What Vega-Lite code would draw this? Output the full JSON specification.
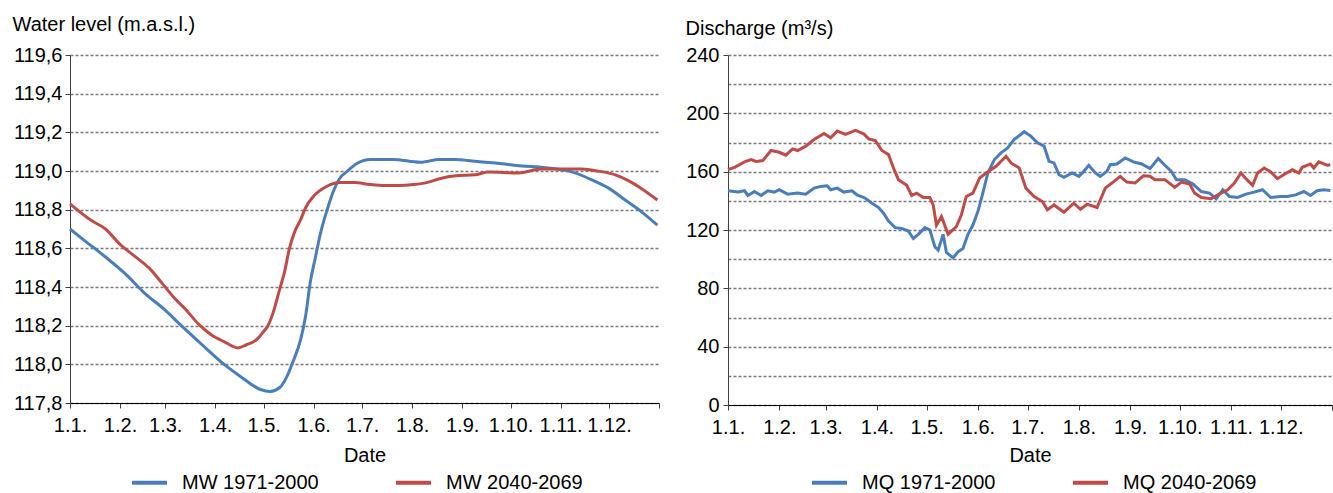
{
  "$schema": "https://vega.github.io/schema/vega-lite/v6.json",
  "background": "white",
  "padding": {"left": 12, "top": 14, "right": 0, "bottom": 0},
  "bounds": "flush",
  "spacing": 69,
  "config": {
    "font": "Liberation Sans",
    "view": {"stroke": null},
    "axis": {
      "labelFont": "Liberation Sans", "labelFontSize": 20, "labelColor": "#000",
      "titleFont": "Liberation Sans", "titleFontSize": 20, "titleFontWeight": "normal", "titleColor": "#000",
      "domainColor": "#404040", "tickColor": "#404040", "tickSize": 5,
      "gridColor": "#7a7a7a", "gridDash": [3, 2], "gridWidth": 1.6
    },
    "legend": {
      "labelFont": "Liberation Sans", "labelFontSize": 20, "labelColor": "#000",
      "symbolType": "stroke", "symbolSize": 1225, "symbolStrokeWidth": 4,
      "labelOffset": 13, "columnPadding": 69, "padding": 0
    }
  },
  "resolve": {"scale": {"color": "independent", "x": "independent", "y": "independent"}, "legend": {"color": "independent"}},
  "datasets": {
    "level": [
      {"d": "2001-01-01", "s": "MW 1971-2000", "v": 118.70},
      {"d": "2001-01-10", "s": "MW 1971-2000", "v": 118.64},
      {"d": "2001-01-23", "s": "MW 1971-2000", "v": 118.555},
      {"d": "2001-02-04", "s": "MW 1971-2000", "v": 118.47},
      {"d": "2001-02-16", "s": "MW 1971-2000", "v": 118.37},
      {"d": "2001-03-01", "s": "MW 1971-2000", "v": 118.28},
      {"d": "2001-03-11", "s": "MW 1971-2000", "v": 118.20},
      {"d": "2001-03-24", "s": "MW 1971-2000", "v": 118.10},
      {"d": "2001-04-05", "s": "MW 1971-2000", "v": 118.01},
      {"d": "2001-04-17", "s": "MW 1971-2000", "v": 117.935},
      {"d": "2001-04-29", "s": "MW 1971-2000", "v": 117.87},
      {"d": "2001-05-05", "s": "MW 1971-2000", "v": 117.86},
      {"d": "2001-05-11", "s": "MW 1971-2000", "v": 117.88},
      {"d": "2001-05-15", "s": "MW 1971-2000", "v": 117.93},
      {"d": "2001-05-19", "s": "MW 1971-2000", "v": 118.01},
      {"d": "2001-05-24", "s": "MW 1971-2000", "v": 118.13},
      {"d": "2001-05-27", "s": "MW 1971-2000", "v": 118.25},
      {"d": "2001-05-30", "s": "MW 1971-2000", "v": 118.43},
      {"d": "2001-06-02", "s": "MW 1971-2000", "v": 118.55},
      {"d": "2001-06-05", "s": "MW 1971-2000", "v": 118.67},
      {"d": "2001-06-09", "s": "MW 1971-2000", "v": 118.79},
      {"d": "2001-06-13", "s": "MW 1971-2000", "v": 118.89},
      {"d": "2001-06-17", "s": "MW 1971-2000", "v": 118.96},
      {"d": "2001-06-22", "s": "MW 1971-2000", "v": 119.00},
      {"d": "2001-06-28", "s": "MW 1971-2000", "v": 119.04},
      {"d": "2001-07-06", "s": "MW 1971-2000", "v": 119.06},
      {"d": "2001-07-20", "s": "MW 1971-2000", "v": 119.06},
      {"d": "2001-08-06", "s": "MW 1971-2000", "v": 119.045},
      {"d": "2001-08-18", "s": "MW 1971-2000", "v": 119.06},
      {"d": "2001-08-28", "s": "MW 1971-2000", "v": 119.06},
      {"d": "2001-09-09", "s": "MW 1971-2000", "v": 119.05},
      {"d": "2001-09-23", "s": "MW 1971-2000", "v": 119.04},
      {"d": "2001-10-08", "s": "MW 1971-2000", "v": 119.026},
      {"d": "2001-10-20", "s": "MW 1971-2000", "v": 119.02},
      {"d": "2001-11-02", "s": "MW 1971-2000", "v": 119.006},
      {"d": "2001-11-10", "s": "MW 1971-2000", "v": 118.99},
      {"d": "2001-11-20", "s": "MW 1971-2000", "v": 118.955},
      {"d": "2001-12-01", "s": "MW 1971-2000", "v": 118.91},
      {"d": "2001-12-11", "s": "MW 1971-2000", "v": 118.85},
      {"d": "2001-12-21", "s": "MW 1971-2000", "v": 118.79},
      {"d": "2001-12-31", "s": "MW 1971-2000", "v": 118.72},
      {"d": "2001-01-01", "s": "MW 2040-2069", "v": 118.83},
      {"d": "2001-01-14", "s": "MW 2040-2069", "v": 118.745},
      {"d": "2001-01-23", "s": "MW 2040-2069", "v": 118.70},
      {"d": "2001-02-01", "s": "MW 2040-2069", "v": 118.62},
      {"d": "2001-02-10", "s": "MW 2040-2069", "v": 118.56},
      {"d": "2001-02-20", "s": "MW 2040-2069", "v": 118.49},
      {"d": "2001-02-27", "s": "MW 2040-2069", "v": 118.42},
      {"d": "2001-03-07", "s": "MW 2040-2069", "v": 118.34},
      {"d": "2001-03-13", "s": "MW 2040-2069", "v": 118.29},
      {"d": "2001-03-22", "s": "MW 2040-2069", "v": 118.205},
      {"d": "2001-03-30", "s": "MW 2040-2069", "v": 118.15},
      {"d": "2001-04-07", "s": "MW 2040-2069", "v": 118.115},
      {"d": "2001-04-15", "s": "MW 2040-2069", "v": 118.085},
      {"d": "2001-04-20", "s": "MW 2040-2069", "v": 118.10},
      {"d": "2001-04-27", "s": "MW 2040-2069", "v": 118.13},
      {"d": "2001-05-01", "s": "MW 2040-2069", "v": 118.17},
      {"d": "2001-05-03", "s": "MW 2040-2069", "v": 118.19},
      {"d": "2001-05-07", "s": "MW 2040-2069", "v": 118.27},
      {"d": "2001-05-11", "s": "MW 2040-2069", "v": 118.39},
      {"d": "2001-05-14", "s": "MW 2040-2069", "v": 118.48},
      {"d": "2001-05-17", "s": "MW 2040-2069", "v": 118.60},
      {"d": "2001-05-20", "s": "MW 2040-2069", "v": 118.68},
      {"d": "2001-05-24", "s": "MW 2040-2069", "v": 118.75},
      {"d": "2001-05-27", "s": "MW 2040-2069", "v": 118.81},
      {"d": "2001-06-01", "s": "MW 2040-2069", "v": 118.87},
      {"d": "2001-06-09", "s": "MW 2040-2069", "v": 118.92},
      {"d": "2001-06-17", "s": "MW 2040-2069", "v": 118.94},
      {"d": "2001-06-26", "s": "MW 2040-2069", "v": 118.94},
      {"d": "2001-07-06", "s": "MW 2040-2069", "v": 118.93},
      {"d": "2001-07-14", "s": "MW 2040-2069", "v": 118.925},
      {"d": "2001-07-24", "s": "MW 2040-2069", "v": 118.925},
      {"d": "2001-08-02", "s": "MW 2040-2069", "v": 118.93},
      {"d": "2001-08-10", "s": "MW 2040-2069", "v": 118.94},
      {"d": "2001-08-18", "s": "MW 2040-2069", "v": 118.96},
      {"d": "2001-08-28", "s": "MW 2040-2069", "v": 118.975},
      {"d": "2001-09-09", "s": "MW 2040-2069", "v": 118.98},
      {"d": "2001-09-17", "s": "MW 2040-2069", "v": 118.995},
      {"d": "2001-10-06", "s": "MW 2040-2069", "v": 118.99},
      {"d": "2001-10-20", "s": "MW 2040-2069", "v": 119.01},
      {"d": "2001-11-14", "s": "MW 2040-2069", "v": 119.01},
      {"d": "2001-11-24", "s": "MW 2040-2069", "v": 119.00},
      {"d": "2001-12-05", "s": "MW 2040-2069", "v": 118.98},
      {"d": "2001-12-13", "s": "MW 2040-2069", "v": 118.95},
      {"d": "2001-12-21", "s": "MW 2040-2069", "v": 118.91},
      {"d": "2001-12-31", "s": "MW 2040-2069", "v": 118.85}
    ],
    "discharge": [
      {"d": "2001-01-01", "s": "MQ 1971-2000", "v": 146.9},
      {"d": "2001-01-07", "s": "MQ 1971-2000", "v": 146.0},
      {"d": "2001-01-11", "s": "MQ 1971-2000", "v": 146.9},
      {"d": "2001-01-13", "s": "MQ 1971-2000", "v": 143.7},
      {"d": "2001-01-17", "s": "MQ 1971-2000", "v": 146.4},
      {"d": "2001-01-21", "s": "MQ 1971-2000", "v": 143.7},
      {"d": "2001-01-25", "s": "MQ 1971-2000", "v": 146.9},
      {"d": "2001-01-29", "s": "MQ 1971-2000", "v": 146.0},
      {"d": "2001-02-01", "s": "MQ 1971-2000", "v": 147.6},
      {"d": "2001-02-06", "s": "MQ 1971-2000", "v": 144.6},
      {"d": "2001-02-12", "s": "MQ 1971-2000", "v": 145.3},
      {"d": "2001-02-17", "s": "MQ 1971-2000", "v": 144.6},
      {"d": "2001-02-22", "s": "MQ 1971-2000", "v": 148.7},
      {"d": "2001-02-26", "s": "MQ 1971-2000", "v": 149.9},
      {"d": "2001-03-02", "s": "MQ 1971-2000", "v": 150.3},
      {"d": "2001-03-04", "s": "MQ 1971-2000", "v": 147.6},
      {"d": "2001-03-08", "s": "MQ 1971-2000", "v": 148.7},
      {"d": "2001-03-12", "s": "MQ 1971-2000", "v": 146.0},
      {"d": "2001-03-17", "s": "MQ 1971-2000", "v": 146.9},
      {"d": "2001-03-20", "s": "MQ 1971-2000", "v": 144.1},
      {"d": "2001-03-25", "s": "MQ 1971-2000", "v": 141.8},
      {"d": "2001-03-29", "s": "MQ 1971-2000", "v": 138.4},
      {"d": "2001-04-02", "s": "MQ 1971-2000", "v": 135.4},
      {"d": "2001-04-05", "s": "MQ 1971-2000", "v": 131.5},
      {"d": "2001-04-08", "s": "MQ 1971-2000", "v": 126.2},
      {"d": "2001-04-12", "s": "MQ 1971-2000", "v": 121.6},
      {"d": "2001-04-16", "s": "MQ 1971-2000", "v": 121.1},
      {"d": "2001-04-20", "s": "MQ 1971-2000", "v": 119.3},
      {"d": "2001-04-23", "s": "MQ 1971-2000", "v": 114.2},
      {"d": "2001-04-26", "s": "MQ 1971-2000", "v": 117.0},
      {"d": "2001-04-30", "s": "MQ 1971-2000", "v": 121.6},
      {"d": "2001-05-03", "s": "MQ 1971-2000", "v": 120.0},
      {"d": "2001-05-06", "s": "MQ 1971-2000", "v": 108.5},
      {"d": "2001-05-08", "s": "MQ 1971-2000", "v": 106.2},
      {"d": "2001-05-11", "s": "MQ 1971-2000", "v": 117.0},
      {"d": "2001-05-13", "s": "MQ 1971-2000", "v": 104.6},
      {"d": "2001-05-17", "s": "MQ 1971-2000", "v": 100.9},
      {"d": "2001-05-20", "s": "MQ 1971-2000", "v": 105.0},
      {"d": "2001-05-23", "s": "MQ 1971-2000", "v": 107.3},
      {"d": "2001-05-26", "s": "MQ 1971-2000", "v": 117.0},
      {"d": "2001-05-29", "s": "MQ 1971-2000", "v": 123.4},
      {"d": "2001-06-01", "s": "MQ 1971-2000", "v": 132.6},
      {"d": "2001-06-04", "s": "MQ 1971-2000", "v": 145.3},
      {"d": "2001-06-07", "s": "MQ 1971-2000", "v": 159.1},
      {"d": "2001-06-11", "s": "MQ 1971-2000", "v": 168.3},
      {"d": "2001-06-15", "s": "MQ 1971-2000", "v": 172.9},
      {"d": "2001-06-19", "s": "MQ 1971-2000", "v": 176.3},
      {"d": "2001-06-23", "s": "MQ 1971-2000", "v": 182.1},
      {"d": "2001-06-29", "s": "MQ 1971-2000", "v": 187.4},
      {"d": "2001-07-03", "s": "MQ 1971-2000", "v": 184.4},
      {"d": "2001-07-07", "s": "MQ 1971-2000", "v": 179.8},
      {"d": "2001-07-11", "s": "MQ 1971-2000", "v": 177.5},
      {"d": "2001-07-14", "s": "MQ 1971-2000", "v": 167.1},
      {"d": "2001-07-17", "s": "MQ 1971-2000", "v": 166.0},
      {"d": "2001-07-20", "s": "MQ 1971-2000", "v": 157.9},
      {"d": "2001-07-23", "s": "MQ 1971-2000", "v": 156.1},
      {"d": "2001-07-28", "s": "MQ 1971-2000", "v": 159.1},
      {"d": "2001-08-01", "s": "MQ 1971-2000", "v": 156.8},
      {"d": "2001-08-04", "s": "MQ 1971-2000", "v": 160.2},
      {"d": "2001-08-07", "s": "MQ 1971-2000", "v": 164.4},
      {"d": "2001-08-11", "s": "MQ 1971-2000", "v": 159.1},
      {"d": "2001-08-14", "s": "MQ 1971-2000", "v": 156.8},
      {"d": "2001-08-18", "s": "MQ 1971-2000", "v": 160.2},
      {"d": "2001-08-20", "s": "MQ 1971-2000", "v": 164.8},
      {"d": "2001-08-24", "s": "MQ 1971-2000", "v": 165.3},
      {"d": "2001-08-29", "s": "MQ 1971-2000", "v": 169.4},
      {"d": "2001-09-03", "s": "MQ 1971-2000", "v": 166.7},
      {"d": "2001-09-08", "s": "MQ 1971-2000", "v": 165.3},
      {"d": "2001-09-13", "s": "MQ 1971-2000", "v": 162.1},
      {"d": "2001-09-18", "s": "MQ 1971-2000", "v": 169.0},
      {"d": "2001-09-22", "s": "MQ 1971-2000", "v": 164.4},
      {"d": "2001-09-26", "s": "MQ 1971-2000", "v": 160.2},
      {"d": "2001-09-29", "s": "MQ 1971-2000", "v": 154.5},
      {"d": "2001-10-04", "s": "MQ 1971-2000", "v": 154.5},
      {"d": "2001-10-09", "s": "MQ 1971-2000", "v": 151.5},
      {"d": "2001-10-14", "s": "MQ 1971-2000", "v": 146.4},
      {"d": "2001-10-19", "s": "MQ 1971-2000", "v": 145.3},
      {"d": "2001-10-23", "s": "MQ 1971-2000", "v": 141.4},
      {"d": "2001-10-27", "s": "MQ 1971-2000", "v": 147.6},
      {"d": "2001-10-31", "s": "MQ 1971-2000", "v": 143.0},
      {"d": "2001-11-05", "s": "MQ 1971-2000", "v": 142.3},
      {"d": "2001-11-10", "s": "MQ 1971-2000", "v": 144.6},
      {"d": "2001-11-15", "s": "MQ 1971-2000", "v": 146.0},
      {"d": "2001-11-20", "s": "MQ 1971-2000", "v": 147.6},
      {"d": "2001-11-25", "s": "MQ 1971-2000", "v": 142.3},
      {"d": "2001-12-01", "s": "MQ 1971-2000", "v": 143.0},
      {"d": "2001-12-05", "s": "MQ 1971-2000", "v": 143.0},
      {"d": "2001-12-10", "s": "MQ 1971-2000", "v": 144.1},
      {"d": "2001-12-15", "s": "MQ 1971-2000", "v": 146.4},
      {"d": "2001-12-19", "s": "MQ 1971-2000", "v": 143.7},
      {"d": "2001-12-23", "s": "MQ 1971-2000", "v": 146.9},
      {"d": "2001-12-27", "s": "MQ 1971-2000", "v": 147.6},
      {"d": "2001-12-31", "s": "MQ 1971-2000", "v": 147.1},
      {"d": "2001-01-01", "s": "MQ 2040-2069", "v": 161.4},
      {"d": "2001-01-05", "s": "MQ 2040-2069", "v": 163.0},
      {"d": "2001-01-11", "s": "MQ 2040-2069", "v": 166.7},
      {"d": "2001-01-15", "s": "MQ 2040-2069", "v": 168.3},
      {"d": "2001-01-18", "s": "MQ 2040-2069", "v": 167.0},
      {"d": "2001-01-22", "s": "MQ 2040-2069", "v": 167.6},
      {"d": "2001-01-27", "s": "MQ 2040-2069", "v": 174.5},
      {"d": "2001-02-01", "s": "MQ 2040-2069", "v": 173.3},
      {"d": "2001-02-05", "s": "MQ 2040-2069", "v": 171.3},
      {"d": "2001-02-09", "s": "MQ 2040-2069", "v": 175.6},
      {"d": "2001-02-12", "s": "MQ 2040-2069", "v": 174.5},
      {"d": "2001-02-17", "s": "MQ 2040-2069", "v": 177.5},
      {"d": "2001-02-22", "s": "MQ 2040-2069", "v": 182.0},
      {"d": "2001-02-28", "s": "MQ 2040-2069", "v": 186.2},
      {"d": "2001-03-04", "s": "MQ 2040-2069", "v": 183.2},
      {"d": "2001-03-08", "s": "MQ 2040-2069", "v": 187.8},
      {"d": "2001-03-13", "s": "MQ 2040-2069", "v": 185.5},
      {"d": "2001-03-19", "s": "MQ 2040-2069", "v": 188.3},
      {"d": "2001-03-24", "s": "MQ 2040-2069", "v": 186.0},
      {"d": "2001-03-27", "s": "MQ 2040-2069", "v": 182.5},
      {"d": "2001-03-31", "s": "MQ 2040-2069", "v": 181.4},
      {"d": "2001-04-04", "s": "MQ 2040-2069", "v": 174.5},
      {"d": "2001-04-08", "s": "MQ 2040-2069", "v": 171.7},
      {"d": "2001-04-11", "s": "MQ 2040-2069", "v": 162.5},
      {"d": "2001-04-14", "s": "MQ 2040-2069", "v": 154.5},
      {"d": "2001-04-19", "s": "MQ 2040-2069", "v": 150.6},
      {"d": "2001-04-22", "s": "MQ 2040-2069", "v": 143.7},
      {"d": "2001-04-25", "s": "MQ 2040-2069", "v": 145.3},
      {"d": "2001-04-29", "s": "MQ 2040-2069", "v": 142.3},
      {"d": "2001-05-03", "s": "MQ 2040-2069", "v": 142.3},
      {"d": "2001-05-05", "s": "MQ 2040-2069", "v": 137.2},
      {"d": "2001-05-07", "s": "MQ 2040-2069", "v": 123.4},
      {"d": "2001-05-10", "s": "MQ 2040-2069", "v": 129.2},
      {"d": "2001-05-14", "s": "MQ 2040-2069", "v": 117.0},
      {"d": "2001-05-19", "s": "MQ 2040-2069", "v": 122.3},
      {"d": "2001-05-22", "s": "MQ 2040-2069", "v": 130.3},
      {"d": "2001-05-25", "s": "MQ 2040-2069", "v": 143.0},
      {"d": "2001-05-29", "s": "MQ 2040-2069", "v": 145.3},
      {"d": "2001-06-02", "s": "MQ 2040-2069", "v": 155.6},
      {"d": "2001-06-06", "s": "MQ 2040-2069", "v": 159.1},
      {"d": "2001-06-12", "s": "MQ 2040-2069", "v": 163.7},
      {"d": "2001-06-18", "s": "MQ 2040-2069", "v": 170.6},
      {"d": "2001-06-21", "s": "MQ 2040-2069", "v": 166.0},
      {"d": "2001-06-26", "s": "MQ 2040-2069", "v": 162.5},
      {"d": "2001-06-30", "s": "MQ 2040-2069", "v": 148.7},
      {"d": "2001-07-05", "s": "MQ 2040-2069", "v": 143.0},
      {"d": "2001-07-10", "s": "MQ 2040-2069", "v": 139.5},
      {"d": "2001-07-13", "s": "MQ 2040-2069", "v": 133.8},
      {"d": "2001-07-17", "s": "MQ 2040-2069", "v": 137.2},
      {"d": "2001-07-23", "s": "MQ 2040-2069", "v": 132.2},
      {"d": "2001-07-29", "s": "MQ 2040-2069", "v": 138.4},
      {"d": "2001-08-02", "s": "MQ 2040-2069", "v": 134.2},
      {"d": "2001-08-06", "s": "MQ 2040-2069", "v": 137.7},
      {"d": "2001-08-12", "s": "MQ 2040-2069", "v": 135.4},
      {"d": "2001-08-17", "s": "MQ 2040-2069", "v": 148.7},
      {"d": "2001-08-21", "s": "MQ 2040-2069", "v": 152.2},
      {"d": "2001-08-26", "s": "MQ 2040-2069", "v": 156.8},
      {"d": "2001-08-30", "s": "MQ 2040-2069", "v": 152.9},
      {"d": "2001-09-04", "s": "MQ 2040-2069", "v": 152.2},
      {"d": "2001-09-09", "s": "MQ 2040-2069", "v": 157.2},
      {"d": "2001-09-13", "s": "MQ 2040-2069", "v": 156.8},
      {"d": "2001-09-16", "s": "MQ 2040-2069", "v": 154.5},
      {"d": "2001-09-22", "s": "MQ 2040-2069", "v": 154.5},
      {"d": "2001-09-28", "s": "MQ 2040-2069", "v": 149.2},
      {"d": "2001-10-02", "s": "MQ 2040-2069", "v": 152.9},
      {"d": "2001-10-07", "s": "MQ 2040-2069", "v": 151.5},
      {"d": "2001-10-10", "s": "MQ 2040-2069", "v": 145.3},
      {"d": "2001-10-14", "s": "MQ 2040-2069", "v": 142.3},
      {"d": "2001-10-20", "s": "MQ 2040-2069", "v": 141.4},
      {"d": "2001-10-24", "s": "MQ 2040-2069", "v": 144.2},
      {"d": "2001-10-30", "s": "MQ 2040-2069", "v": 147.6},
      {"d": "2001-11-03", "s": "MQ 2040-2069", "v": 152.2},
      {"d": "2001-11-07", "s": "MQ 2040-2069", "v": 159.1},
      {"d": "2001-11-10", "s": "MQ 2040-2069", "v": 155.2},
      {"d": "2001-11-14", "s": "MQ 2040-2069", "v": 150.6},
      {"d": "2001-11-17", "s": "MQ 2040-2069", "v": 159.1},
      {"d": "2001-11-21", "s": "MQ 2040-2069", "v": 162.5},
      {"d": "2001-11-25", "s": "MQ 2040-2069", "v": 159.8},
      {"d": "2001-11-29", "s": "MQ 2040-2069", "v": 155.2},
      {"d": "2001-12-03", "s": "MQ 2040-2069", "v": 158.0},
      {"d": "2001-12-08", "s": "MQ 2040-2069", "v": 161.4},
      {"d": "2001-12-12", "s": "MQ 2040-2069", "v": 159.1},
      {"d": "2001-12-14", "s": "MQ 2040-2069", "v": 163.0},
      {"d": "2001-12-19", "s": "MQ 2040-2069", "v": 165.3},
      {"d": "2001-12-21", "s": "MQ 2040-2069", "v": 162.5},
      {"d": "2001-12-24", "s": "MQ 2040-2069", "v": 166.7},
      {"d": "2001-12-29", "s": "MQ 2040-2069", "v": 164.4},
      {"d": "2001-12-31", "s": "MQ 2040-2069", "v": 164.8}
    ]
  },
  "hconcat": [
    {
      "width": 589,
      "height": 348,
      "data": {"name": "level"},
      "mark": {"type": "line", "strokeWidth": 3, "interpolate": "monotone"},
      "encoding": {
        "x": {
          "field": "d", "type": "temporal",
          "scale": {"type": "utc", "nice": false, "domain": [{"year": 2001, "month": 1, "date": 1, "utc": true}, {"year": 2002, "month": 1, "date": 1, "utc": true}]},
          "axis": {
            "title": "Date", "format": "%-d.%-m.", "grid": false,
            "tickCount": {"interval": "month", "step": 1},
            "labelExpr": "utcyear(datum.value) > 2001 ? '' : datum.label",
            "labelFlush": false, "labelOverlap": false, "labelPadding": 7, "titlePadding": 10,
            "domainColor": "#000", "tickColor": "#404040"
          }
        },
        "y": {
          "field": "v", "type": "quantitative",
          "scale": {"domain": [117.8, 119.6], "nice": false, "zero": false},
          "axis": {
            "title": "Water level (m.a.s.l.)", "titleAngle": 0, "titleAlign": "left", "titleBaseline": "alphabetic",
            "titleX": -58, "titleY": -25,
            "values": [117.8, 118.0, 118.2, 118.4, 118.6, 118.8, 119.0, 119.2, 119.4, 119.6],
            "labelExpr": "replace(format(datum.value, '.1f'), '.', ',')",
            "labelPadding": 3, "grid": true
          }
        },
        "color": {
          "field": "s", "type": "nominal",
          "scale": {"domain": ["MW 1971-2000", "MW 2040-2069"], "range": ["#4a7ebb", "#be4b48"]},
          "legend": {"title": null, "orient": "none", "direction": "horizontal", "legendX": 60, "legendY": 408}
        }
      }
    },
    {
      "width": 604,
      "height": 350,
      "data": {"name": "discharge"},
      "mark": {"type": "line", "strokeWidth": 3},
      "encoding": {
        "x": {
          "field": "d", "type": "temporal",
          "scale": {"type": "utc", "nice": false, "domain": [{"year": 2001, "month": 1, "date": 1, "utc": true}, {"year": 2002, "month": 1, "date": 1, "utc": true}]},
          "axis": {
            "title": "Date", "format": "%-d.%-m.", "grid": false,
            "tickCount": {"interval": "month", "step": 1},
            "labelExpr": "utcyear(datum.value) > 2001 ? '' : datum.label",
            "labelFlush": false, "labelOverlap": false, "labelPadding": 7, "titlePadding": 8,
            "domainColor": "#000", "tickColor": "#404040"
          }
        },
        "y": {
          "field": "v", "type": "quantitative",
          "scale": {"domain": [0, 240], "nice": false},
          "axis": {
            "title": "Discharge (m³/s)", "titleAngle": 0, "titleAlign": "left", "titleBaseline": "alphabetic",
            "titleX": -43, "titleY": -21,
            "values": [0, 20, 40, 60, 80, 100, 120, 140, 160, 180, 200, 220, 240],
            "labelExpr": "datum.value % 40 === 0 ? datum.label : ''",
            "tickOpacity": {"condition": {"test": "datum.value % 40 === 0", "value": 1}, "value": 0},
            "labelPadding": 4, "grid": true
          }
        },
        "color": {
          "field": "s", "type": "nominal",
          "scale": {"domain": ["MQ 1971-2000", "MQ 2040-2069"], "range": ["#4a7ebb", "#be4b48"]},
          "legend": {"title": null, "orient": "none", "direction": "horizontal", "legendX": 82, "legendY": 408}
        }
      }
    }
  ]
}
